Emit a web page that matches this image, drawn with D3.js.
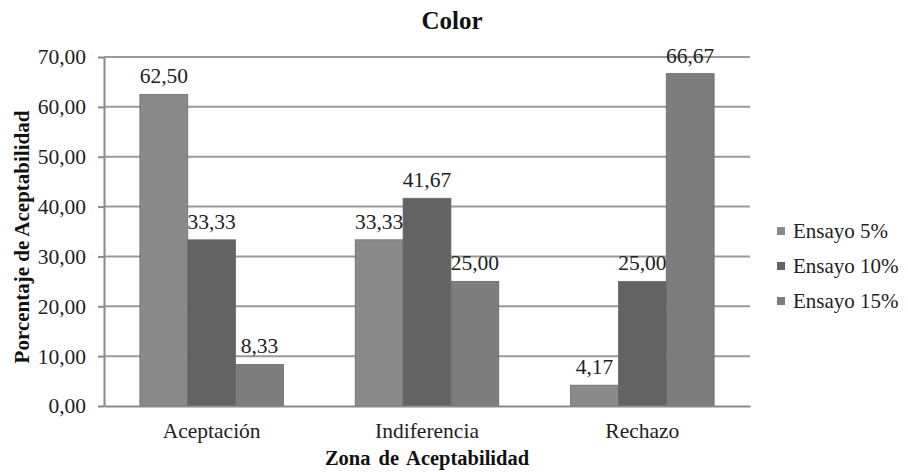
<!DOCTYPE html>
<html><head><meta charset="utf-8">
<script src="https://cdn.jsdelivr.net/npm/d3@7"></script>
<style>body{margin:0;background:#fff}svg{display:block}</style>
</head><body><svg id="c" width="908" height="472"></svg>
<script>
const categories = ["Aceptación", "Indiferencia", "Rechazo"];
const seriesNames = ["Ensayo 5%", "Ensayo 10%", "Ensayo 15%"];
const ensayo5 = [62.50, 33.33, 4.17];
const ensayo10 = [33.33, 41.67, 25.00];
const ensayo15 = [8.33, 25.00, 66.67];
const yTicks = [0, 10, 20, 30, 40, 50, 60, 70];
const colors = ["#8a8a8a", "#636363", "#7d7d7d"];
const series = [ensayo5, ensayo10, ensayo15];
const FF = '"Liberation Serif"';

const svg = d3.select("#c");
const m = {l: 104, r: 750, t: 57, b: 406};
const x = d3.scaleBand().domain(categories).range([m.l, m.r]).paddingInner(0).paddingOuter(0);
const xs = d3.scaleBand().domain(seriesNames).range([0, x.bandwidth()]).paddingInner(0).paddingOuter(0.75);
const y = d3.scaleLinear().domain([0, 70]).range([m.b, m.t]);
const fmt = v => d3.format(".2f")(v).replace(".", ",");

svg.append("g").selectAll("line").data(yTicks.filter(t => t > 0)).join("line")
  .attr("x1", m.l).attr("x2", m.r).attr("y1", d => y(d)).attr("y2", d => y(d))
  .attr("stroke", "#9a9a9a").attr("stroke-width", 2);

const ya = svg.append("g").attr("transform", `translate(${m.l},0)`)
  .call(d3.axisLeft(y).tickValues(yTicks).tickFormat(fmt).tickSize(6).tickSizeOuter(0));
ya.select(".domain").attr("stroke", "#8a8a8a").attr("stroke-width", 2);
ya.selectAll(".tick line").attr("stroke", "#8a8a8a").attr("stroke-width", 2);
ya.selectAll(".tick text").style("font-family", FF).style("font-size", "21.5px").attr("fill", "#222").attr("x", -18);

const groups = svg.append("g").selectAll("g").data(categories).join("g")
  .attr("transform", d => `translate(${x(d)},0)`);
groups.each(function(cat, ci) {
  const g = d3.select(this);
  seriesNames.forEach((s, si) => {
    const v = series[si][ci];
    g.append("rect").attr("x", xs(s)).attr("width", xs.bandwidth())
      .attr("y", y(v)).attr("height", y(0) - y(v))
      .attr("fill", colors[si]).attr("stroke", "#6a6a6a").attr("stroke-width", 0.8);
    g.append("text").attr("x", xs(s) + xs.bandwidth() / 2).attr("y", y(v) - 11)
      .attr("text-anchor", "middle").style("font-family", FF).style("font-size", "21.5px").attr("fill", "#222").text(fmt(v));
  });
});

const xa = svg.append("g").attr("transform", `translate(0,${m.b})`)
  .call(d3.axisBottom(x).tickSize(0).tickSizeOuter(0));
xa.select(".domain").attr("stroke", "#8a8a8a").attr("stroke-width", 2);
xa.selectAll(".tick text").style("font-family", FF).style("font-size", "21.5px").attr("fill", "#222")
  .attr("dy", null).attr("y", 32);

svg.append("text").attr("x", 452).attr("y", 29).attr("text-anchor", "middle").style("font-family", FF)
  .style("font-size", "25px").attr("font-weight", "bold").attr("fill", "#111").text("Color");
svg.append("text").attr("x", x("Indiferencia") + x.bandwidth() / 2).attr("y", 465).attr("text-anchor", "middle").style("font-family", FF)
  .style("font-size", "20.5px").attr("font-weight", "bold").attr("fill", "#111").style("word-spacing", "3px").text("Zona de Aceptabilidad");
svg.append("text").attr("transform", "translate(29,237) rotate(-90)").attr("text-anchor", "middle").style("font-family", FF)
  .style("font-size", "21px").attr("font-weight", "bold").attr("fill", "#111").text("Porcentaje de Aceptabilidad");

const lg = svg.append("g").selectAll("g").data(seriesNames).join("g")
  .attr("transform", (d, i) => `translate(777,${231 + i * 35})`);
lg.append("rect").attr("x", 0).attr("y", -4).attr("width", 8).attr("height", 8)
  .attr("fill", (d, i) => colors[i]);
lg.append("text").attr("x", 16).attr("y", 7).style("font-family", FF).style("font-size", "21px").attr("fill", "#222").text(d => d);
</script></body></html>
